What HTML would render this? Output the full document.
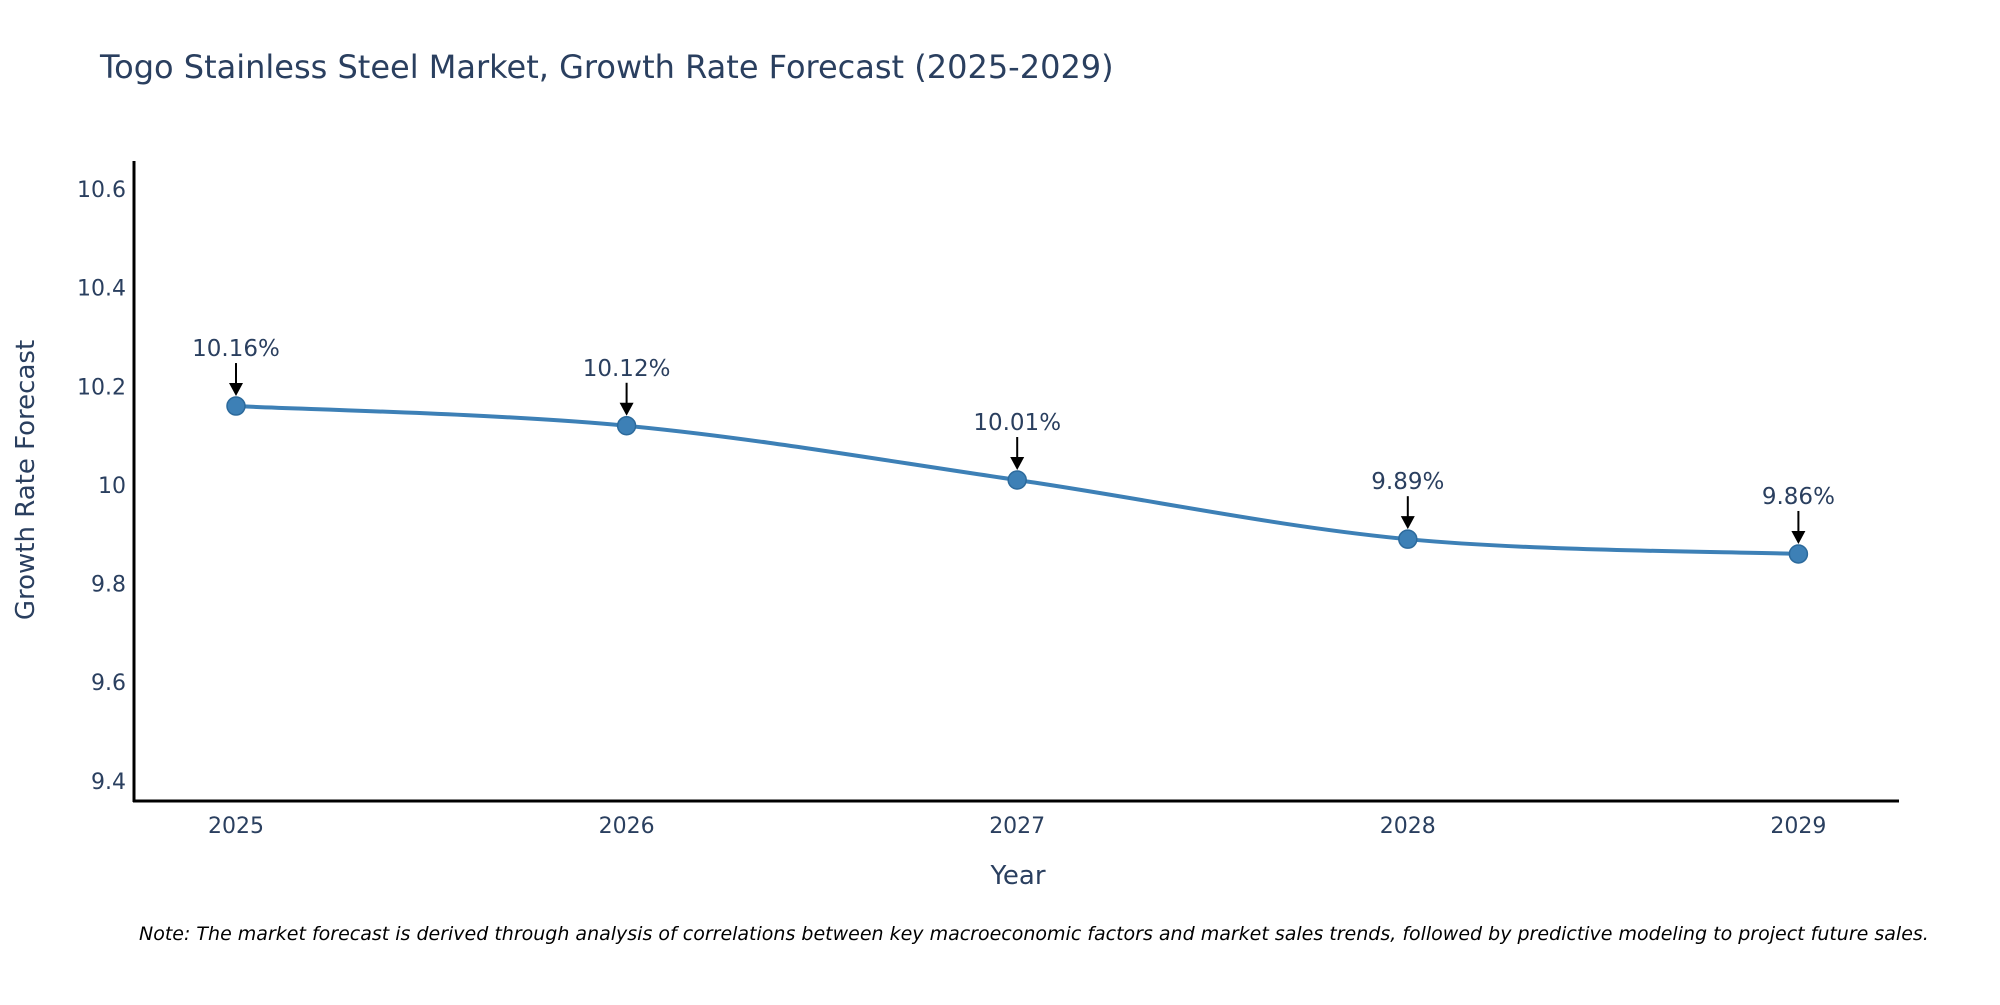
<!DOCTYPE html>
<html><head><meta charset="utf-8"><style>
body{margin:0;background:#fff;}
svg text{font-family:"DejaVu Sans","Liberation Sans",sans-serif;fill:#2a3f5f;}
</style></head><body>
<svg id="chart" width="2000" height="1000" xmlns="http://www.w3.org/2000/svg">
<text x="100" y="78" font-size="32">Togo Stainless Steel Market, Growth Rate Forecast (2025-2029)</text>
<g id="yticks"></g><g id="xticks"></g>
<line x1="134" y1="161" x2="134" y2="802" stroke="#000" stroke-width="3"/>
<line x1="133" y1="801" x2="1899" y2="801" stroke="#000" stroke-width="3"/>
<text x="0" y="0" font-size="26" text-anchor="middle" transform="translate(34,480) rotate(-90)">Growth Rate Forecast</text>
<text x="1018" y="884" font-size="26" text-anchor="middle">Year</text>
<g id="series"></g>
<text x="139" y="940" font-size="19" font-style="italic" style="fill:#000">Note: The market forecast is derived through analysis of correlations between key macroeconomic factors and market sales trends, followed by predictive modeling to project future sales.</text>
</svg>
<script>
const years=[2025,2026,2027,2028,2029];
const values=[10.16,10.12,10.01,9.89,9.86];
const labels=["10.16%","10.12%","10.01%","9.89%","9.86%"];
const yTicks=[9.4,9.6,9.8,10,10.2,10.4,10.6];
const yTickLabels=["9.4","9.6","9.8","10","10.2","10.4","10.6"];
const NS="http://www.w3.org/2000/svg";
const yMin=9.359,yMax=10.657,yTop=161,yBot=801;
function y(v){return yBot-(v-yMin)/(yMax-yMin)*(yBot-yTop);}
function x(yr){return 236+(yr-2025)*390.6;}
function mk(tag,attrs,parent){const e=document.createElementNS(NS,tag);for(const k in attrs)e.setAttribute(k,attrs[k]);parent.appendChild(e);return e;}
const yt=document.getElementById('yticks');
yTicks.forEach((v,i)=>{const t=mk('text',{x:126,y:y(v)+8,'font-size':22,'text-anchor':'end'},yt);t.textContent=yTickLabels[i];

});
const xt=document.getElementById('xticks');
years.forEach(yr=>{const t=mk('text',{x:x(yr),y:833,'font-size':22,'text-anchor':'middle'},xt);t.textContent=yr;

});
const s=document.getElementById('series');
const pts=years.map((yr,i)=>[x(yr),y(values[i])]);
let d=`M${pts[0][0]},${pts[0][1]}`;
for(let i=0;i<pts.length-1;i++){const p0=pts[i-1]||pts[i],p1=pts[i],p2=pts[i+1],p3=pts[i+2]||p2;const k=1/6;
d+=` C${p1[0]+(p2[0]-p0[0])*k},${p1[1]+(p2[1]-p0[1])*k} ${p2[0]-(p3[0]-p1[0])*k},${p2[1]-(p3[1]-p1[1])*k} ${p2[0]},${p2[1]}`;}
const path=mk('path',{d:d,fill:'none',stroke:'#3d80b6','stroke-width':4},s);


pts.forEach((p,i)=>{
const c=mk('circle',{cx:p[0],cy:p[1],r:9,fill:'#3d80b6',stroke:'#2c6a9c','stroke-width':1.5},s);


const l=mk('line',{x1:p[0],y1:p[1]-43,x2:p[0],y2:p[1]-20,stroke:'#000','stroke-width':2},s);


const h=mk('path',{d:`M${p[0]-7},${p[1]-23} L${p[0]+7},${p[1]-23} L${p[0]},${p[1]-10} z`,fill:'#000'},s);


const t=mk('text',{x:p[0],y:p[1]-50,'font-size':23,'text-anchor':'middle'},s);t.textContent=labels[i];


});
</script>
</body></html>
